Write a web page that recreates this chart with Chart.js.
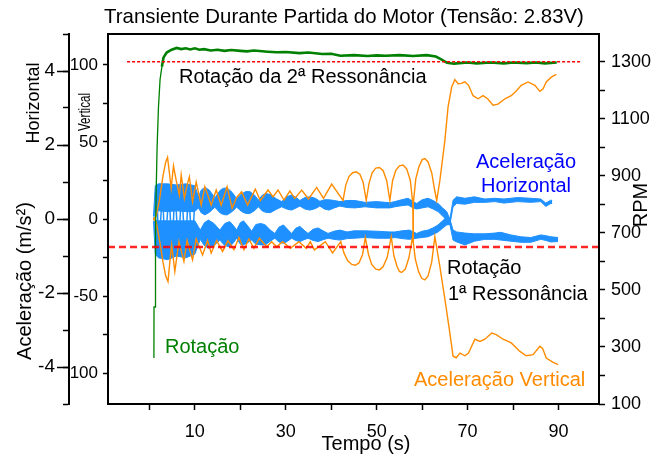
<!DOCTYPE html>
<html>
<head>
<meta charset="utf-8">
<script src="https://cdn.jsdelivr.net/npm/chart.js@4"></script>
<style>
  html, body { margin: 0; padding: 0; background: #fff; }
</style>
</head>
<body>
<canvas id="chart" width="667" height="457"></canvas>
<script>
// ---- data ----
// rotation (RPM, right axis)
const rotTime = [1.0, 1.02, 1.3, 1.35, 1.5, 1.7, 2.0, 2.35, 2.75, 3.1, 3.8, 4.9, 6, 7, 8, 9, 10, 11, 12, 13.5, 15, 16.5, 18, 20, 21.5, 23, 26, 28, 30, 33, 35, 38, 40, 42, 45, 48, 50, 52, 55, 58, 61, 63, 64, 65.5, 67, 70, 72, 75, 78, 80, 83, 85, 87, 89.6];
const rotRpm = [261, 440, 440, 700, 850, 1000, 1140, 1237, 1282, 1314, 1332, 1342, 1348, 1344, 1347, 1343, 1347, 1342, 1344, 1339, 1342, 1338, 1341, 1338, 1336, 1339, 1335, 1333, 1334, 1330, 1332, 1327, 1328, 1321, 1323, 1320, 1322, 1321, 1323, 1320, 1323, 1318, 1310, 1296, 1293, 1297, 1294, 1297, 1294, 1297, 1295, 1297, 1294, 1297];

// resonance speeds (RPM)
const res1Rpm = 650;
const res2Rpm = 1300;

// vertical acceleration, upper and lower traces
const vertUpTime = [0.9, 1.5, 2.2, 3.0, 3.6, 4.0, 4.4, 4.8, 5.3, 5.9, 6.6, 7.0, 7.7, 8.3, 8.8, 9.5, 10.3, 11.4, 12.2, 13.6, 14.7, 15.8, 17.1, 18.2, 19.2, 20.3, 21.6, 23.3, 24.4, 26.1, 27.2, 28.3, 29.6, 30.9, 32.0, 33.5, 35.0, 36.8, 38.3, 40.1, 42.6, 43.2, 43.9, 44.7, 45.5, 46.3, 47.0, 47.7, 48.3, 49.0, 49.8, 50.6, 51.4, 52.2, 52.9, 53.5, 54.2, 55.0, 55.8, 56.6, 57.4, 57.95, 58.0, 58.05, 58.6, 59.3, 60.0, 60.6, 61.3, 62.1, 62.8, 63.2, 63.9, 65.0, 65.7, 66.5, 67.2, 67.9, 68.6, 69.4, 70.2, 71.2, 72.3, 73.4, 74.4, 75.6, 76.7, 78.2, 79.6, 80.7, 81.8, 83.3, 84.8, 85.9, 86.6, 87.3, 88.4, 89.5];
const vertUp = [0, 2, 12, 28, 37, 40, 30, 20, 34.5, 25, 15.5, 28.5, 13.4, 22, 27.4, 11.2, 24, 9, 21, 9, 18.8, 9, 21, 7, 14, 17.7, 9, 19.4, 12, 18.8, 14.4, 18.8, 12.3, 18.1, 13.4, 18.8, 13, 20.5, 13.4, 22.6, 12, 22, 27.5, 30, 30.6, 29, 24, 12, 23, 30, 33, 33.4, 31.5, 25, 12, 25, 31.5, 34.5, 35, 32.5, 25, 10, -15, 10, 26, 34, 38.5, 39.2, 37, 30, 18, 12, 25, 51, 72.7, 85.6, 90.4, 87.8, 88, 89, 86.7, 80, 78, 80, 78, 73.8, 74.5, 78, 80, 83, 86.7, 88.9, 86.7, 82.8, 84.5, 88.9, 92, 93.8];
const vertLoTime = [0.9, 1.5, 2.3, 3.0, 3.6, 4.1, 4.5, 4.9, 5.6, 6.5, 7.6, 8.3, 9.5, 10.3, 11.7, 12.8, 13.6, 14.8, 16.1, 17.3, 18.6, 19.7, 20.8, 21.9, 23.0, 24.2, 25.8, 26.9, 28.0, 29.3, 31.0, 32.9, 34.5, 35.4, 36.3, 38.7, 40.3, 42.1, 42.8, 43.6, 44.5, 45.3, 46.1, 46.9, 47.5, 48.2, 48.9, 49.8, 50.6, 51.4, 52.3, 53.2, 53.8, 54.5, 55.0, 55.5, 56.3, 57.1, 57.9, 58.5, 59.2, 59.9, 60.6, 61.3, 62.1, 62.8, 63.9, 65.0, 66.1, 66.8, 67.5, 68.3, 69.4, 70.2, 71.6, 72.7, 73.8, 75.3, 76.3, 77.8, 79.6, 81.5, 82.9, 84.4, 85.9, 86.5, 87.3, 88.8, 89.9];
const vertLo = [0, -2, -15, -28, -37, -40.6, -28, -16.8, -34, -14.7, -27.6, -14, -26.5, -13, -23.3, -14, -22, -14, -21, -14, -20, -12, -20, -13, -19, -12.5, -18, -14.7, -18, -14.7, -19, -14.7, -19, -14.7, -20, -14.7, -22, -14.7, -22, -27, -29.5, -30, -28.5, -23, -12, -23, -29.5, -32.5, -33, -31, -25, -11.5, -24, -31, -34, -34.7, -32.5, -25, -11.5, -26, -34, -38.5, -39.5, -37, -28, -11.4, -30.9, -52, -74, -89, -90, -87, -88.7, -87, -78, -79.4, -78, -74, -75, -78, -80.4, -85.9, -88.7, -88, -82.6, -84, -90.2, -93, -94.5];

// horizontal acceleration: two bands (top / bottom edge), they cross near 66 s
const horATime = [0.9, 1.3, 2, 4, 6, 8, 10, 10.8, 11.4, 12.2, 13.2, 14.4, 15.6, 16.3, 17.1, 18.2, 19.2, 20.3, 21.2, 22.1, 23.1, 24.0, 24.8, 25.6, 26.6, 27.9, 29.1, 30.2, 31.3, 32.3, 33.1, 34.2, 35.3, 36.5, 37.5, 38.5, 39.5, 40.7, 41.9, 43.5, 45.2, 47.4, 50, 52.9, 54, 55.5, 56.9, 58, 58.8, 60, 61.3, 62.4, 63.5, 64.5, 65.4, 66.1, 66.8, 67.6, 69.4, 71.5, 73.8, 76, 77.3, 79.5, 81.7, 83.9, 86.1, 87.2, 88.3, 89.9];
const horATop = [0.08, 0.9, 0.95, 0.95, 0.92, 0.95, 0.9, 0.6, 0.78, 0.86, 0.78, 0.57, 0.78, 0.83, 0.84, 0.72, 0.55, 0.68, 0.74, 0.74, 0.65, 0.51, 0.64, 0.69, 0.66, 0.55, 0.47, 0.6, 0.65, 0.58, 0.5, 0.58, 0.6, 0.56, 0.48, 0.52, 0.52, 0.5, 0.47, 0.5, 0.5, 0.45, 0.47, 0.44, 0.47, 0.52, 0.56, 0.47, 0.42, 0.52, 0.56, 0.5, 0.42, 0.3, 0.2, 0.0, -0.3, -0.35, -0.38, -0.4, -0.4, -0.38, -0.36, -0.43, -0.48, -0.5, -0.43, -0.45, -0.48, -0.5];
const horABot = [0.0, 0.2, 0.22, 0.2, 0.22, 0.2, 0.2, 0.3, 0.17, 0.11, 0.18, 0.32, 0.16, 0.12, 0.11, 0.2, 0.32, 0.2, 0.15, 0.15, 0.22, 0.33, 0.22, 0.18, 0.17, 0.26, 0.33, 0.27, 0.24, 0.3, 0.35, 0.27, 0.24, 0.28, 0.35, 0.27, 0.24, 0.3, 0.35, 0.31, 0.3, 0.33, 0.3, 0.3, 0.33, 0.36, 0.38, 0.3, 0.27, 0.3, 0.33, 0.27, 0.2, 0.08, -0.03, -0.15, -0.57, -0.62, -0.7, -0.6, -0.55, -0.55, -0.57, -0.6, -0.63, -0.63, -0.55, -0.58, -0.62, -0.61];
const horBTime = [0.9, 1.3, 2, 4, 6, 8, 10, 11.2, 12.1, 13.0, 14.2, 15.5, 16.6, 17.7, 18.5, 19.2, 20.0, 20.7, 21.6, 22.5, 23.4, 24.5, 25.5, 26.6, 27.6, 28.5, 29.5, 30.4, 31.3, 32.2, 33.1, 34.0, 34.9, 36.0, 37.1, 38.2, 39.3, 40.6, 41.9, 43.5, 45, 47.4, 50, 52.9, 54, 55.6, 57.2, 58.8, 60, 61.3, 62.4, 63.5, 64.5, 65.4, 66.1, 66.8, 67.6, 69.4, 71.5, 73.8, 76, 78, 81, 83.9, 86.1, 87.2, 88.3, 88.6];
const horBTop = [0.0, -0.05, -0.05, -0.05, -0.05, -0.05, -0.05, -0.3, -0.1, -0.03, -0.12, -0.3, -0.12, -0.07, -0.18, -0.3, -0.1, -0.05, -0.18, -0.33, -0.15, -0.12, -0.16, -0.3, -0.39, -0.22, -0.16, -0.28, -0.39, -0.25, -0.2, -0.3, -0.39, -0.28, -0.24, -0.32, -0.39, -0.33, -0.3, -0.35, -0.32, -0.32, -0.33, -0.35, -0.35, -0.32, -0.3, -0.39, -0.33, -0.3, -0.24, -0.16, -0.05, 0.06, 0.0, 0.51, 0.6, 0.56, 0.6, 0.54, 0.56, 0.54, 0.58, 0.56, 0.54, 0.43, 0.51, 0.5];
const horBBot = [-0.06, -0.95, -1.05, -1.1, -1.0, -1.05, -0.95, -0.55, -0.72, -0.79, -0.72, -0.57, -0.72, -0.75, -0.64, -0.52, -0.68, -0.7, -0.64, -0.57, -0.68, -0.7, -0.7, -0.6, -0.52, -0.62, -0.66, -0.6, -0.52, -0.58, -0.61, -0.56, -0.52, -0.58, -0.61, -0.56, -0.52, -0.55, -0.57, -0.53, -0.52, -0.5, -0.52, -0.52, -0.5, -0.53, -0.55, -0.52, -0.5, -0.48, -0.42, -0.35, -0.25, -0.16, -0.15, 0.33, 0.42, 0.4, 0.45, 0.45, 0.47, 0.43, 0.47, 0.45, 0.47, 0.34, 0.42, 0.42];
// early burst: spikes crossing the gap between the bands
const horSpikeTime = [1.6, 2.1, 2.9, 3.4, 4.3, 5.0, 5.6, 6.4, 7.1, 7.9, 8.6, 9.4, 10.1];
const horSpike = [0.85, -0.9, 0.9, -1.0, 0.8, -0.95, 0.9, -0.85, 0.85, -0.95, 0.8, -0.8, 0.7];

// ticks
const timeTicks = [0, 10, 20, 30, 40, 50, 60, 70, 80, 90];
const timeLabels = [10, 30, 50, 70, 90];
const vertTicks = [-100, -75, -50, -25, 0, 25, 50, 75, 100];
const vertLabels = [-100, -50, 0, 50, 100];
const horTicks = [-5, -4, -3, -2, -1, 0, 1, 2, 3, 4, 5];
const horLabels = [-4, -2, 0, 2, 4];
const rpmTicks = [100, 200, 300, 400, 500, 600, 700, 800, 900, 1000, 1100, 1200, 1300];
const rpmLabels = [100, 300, 500, 700, 900, 1100, 1300];

const FONT = '"Liberation Sans", Arial, sans-serif';
const BLUE = "rgb(30,144,255)";
const ORANGE = "rgb(255,140,0)";

function pts(xs, ys) {
  return xs.map((x, i) => ({ x: x, y: ys[i] }));
}

function setTicks(list) {
  return function (scale) {
    scale.ticks = list.map((v) => ({ value: v }));
  };
}

function labelOnly(list) {
  return function (value) {
    return list.includes(value) ? String(value) : "";
  };
}

const tickGrid = {
  drawOnChartArea: false,
  tickLength: 6,
  tickColor: "#000",
  tickWidth: 1.5,
  color: "#000",
};

// frame, longer major ticks on the outer axis, free text
const textPlugin = {
  id: "texts",
  afterDraw(chart) {
    const ctx = chart.ctx;
    const a = chart.chartArea;
    const yH = chart.scales.yH;
    ctx.save();
    ctx.strokeStyle = "#000";
    ctx.lineWidth = 2;
    ctx.strokeRect(a.left, a.top, a.right - a.left, a.bottom - a.top);

    ctx.lineWidth = 1.5;
    ctx.beginPath();
    horLabels.forEach((v) => {
      const y = Math.round(yH.getPixelForValue(v)) + 0.5;
      ctx.moveTo(yH.right - 12, y);
      ctx.lineTo(yH.right, y);
    });
    ctx.stroke();

    ctx.textBaseline = "alphabetic";
    ctx.fillStyle = "#000";
    ctx.textAlign = "center";
    ctx.font = "20.4px " + FONT;
    ctx.fillText("Transiente Durante Partida do Motor (Tensão: 2.83V)", 344, 23);
    ctx.font = "20px " + FONT;
    ctx.fillText("Tempo (s)", 366, 450);

    ctx.textAlign = "left";
    ctx.fillText("Rotação da 2ª Ressonância", 179, 83);
    ctx.fillText("Rotação", 447, 274);
    ctx.fillText("1ª Ressonância", 448, 300);
    ctx.fillStyle = "#008000";
    ctx.fillText("Rotação", 165, 353);
    ctx.fillStyle = ORANGE;
    ctx.fillText("Aceleração Vertical", 414, 386);
    ctx.fillStyle = "#0000ff";
    ctx.textAlign = "center";
    ctx.fillText("Aceleração", 526, 168);
    ctx.fillText("Horizontal", 526, 192);

    const rot = (txt, x, y, size, squeeze) => {
      ctx.save();
      ctx.translate(x, y);
      ctx.rotate(-Math.PI / 2);
      ctx.scale(squeeze || 1, 1);
      ctx.font = size + "px " + FONT;
      ctx.textAlign = "center";
      ctx.textBaseline = "middle";
      ctx.fillStyle = "#000";
      ctx.fillText(txt, 0, 0);
      ctx.restore();
    };
    rot("Horizontal", 34, 103, 18);
    rot("Vertical", 85, 112, 17, 0.68);
    rot("Aceleração (m/s²)", 25, 281, 20);
    rot("RPM", 641, 205, 20);
    ctx.restore();
  },
};

const lineBase = { pointRadius: 0, tension: 0, xAxisID: "x" };

const datasets = [
  // resonance lines
  Object.assign({}, lineBase, {
    data: [{ x: -4.9, y: res2Rpm }, { x: 94.9, y: res2Rpm }],
    yAxisID: "yR", borderColor: "rgb(255,0,0)", borderWidth: 1.5, borderDash: [3, 2], order: 0,
  }),
  Object.assign({}, lineBase, {
    data: [{ x: -9.1, y: res1Rpm }, { x: 98.9, y: res1Rpm }],
    yAxisID: "yR", borderColor: "rgba(255,0,0,0.85)", borderWidth: 2.5, borderDash: [7, 4], order: 0,
  }),
  // rotation: thin while speeding up, thicker noisy plateau
  Object.assign({}, lineBase, {
    data: pts(rotTime, rotRpm), yAxisID: "yR", borderColor: "#008000", borderWidth: 2, order: 1,
    segment: { borderWidth: (c) => (c.p0.parsed.y > 1280 ? 2.6 : 1.3) },
  }),
  // vertical acceleration
  Object.assign({}, lineBase, {
    data: pts(vertUpTime, vertUp), yAxisID: "yV", borderColor: ORANGE, borderWidth: 1.4, order: 2,
  }),
  Object.assign({}, lineBase, {
    data: pts(vertLoTime, vertLo), yAxisID: "yV", borderColor: ORANGE, borderWidth: 1.4, order: 2,
  }),
  // horizontal acceleration bands
  Object.assign({}, lineBase, {
    data: pts(horATime, horATop), yAxisID: "yH", borderColor: BLUE, borderWidth: 1, order: 3,
  }),
  Object.assign({}, lineBase, {
    data: pts(horATime, horABot), yAxisID: "yH", borderColor: BLUE, borderWidth: 1, order: 3,
    fill: "-1", backgroundColor: BLUE,
  }),
  Object.assign({}, lineBase, {
    data: pts(horBTime, horBTop), yAxisID: "yH", borderColor: BLUE, borderWidth: 1, order: 3,
  }),
  Object.assign({}, lineBase, {
    data: pts(horBTime, horBBot), yAxisID: "yH", borderColor: BLUE, borderWidth: 1, order: 3,
    fill: "-1", backgroundColor: BLUE,
  }),
  Object.assign({}, lineBase, {
    data: pts(horSpikeTime, horSpike), yAxisID: "yH", borderColor: BLUE, borderWidth: 1.5, order: 3,
  }),
];

new Chart(document.getElementById("chart"), {
  type: "line",
  data: { datasets: datasets },
  options: {
    responsive: false,
    animation: false,
    layout: { padding: { top: 34, left: 0, right: 0, bottom: 0 } },
    plugins: { legend: { display: false }, tooltip: { enabled: false }, title: { display: false } },
    scales: {
      x: {
        type: "linear", min: -9.1, max: 98.9,
        afterBuildTicks: setTicks(timeTicks),
        afterFit: (s) => { s.height = 53; },
        ticks: { callback: labelOnly(timeLabels), color: "#000", font: { size: 18, family: FONT }, autoSkip: false, maxRotation: 0, padding: 11 },
        grid: tickGrid,
        border: { display: false },
      },
      yV: {
        type: "linear", position: "left", weight: 0, min: -120, max: 120,
        afterBuildTicks: setTicks(vertTicks),
        afterFit: (s) => { s.width = 39; },
        ticks: { callback: labelOnly(vertLabels), color: "#000", font: { size: 17, family: FONT }, autoSkip: false, padding: 5 },
        grid: Object.assign({}, tickGrid, { tickLength: 5 }),
        border: { display: false },
      },
      yH: {
        type: "linear", position: "left", weight: 1, min: -5, max: 5,
        afterBuildTicks: setTicks(horTicks),
        afterFit: (s) => { s.width = 69; },
        ticks: { callback: labelOnly(horLabels), color: "#000", font: { size: 19, family: FONT }, autoSkip: false, padding: 8 },
        grid: tickGrid,
        border: { display: true, color: "#000", width: 2 },
      },
      yR: {
        type: "linear", position: "right", min: 100, max: 1397,
        afterBuildTicks: setTicks(rpmTicks),
        afterFit: (s) => { s.width = 68; },
        ticks: { callback: labelOnly(rpmLabels), color: "#000", font: { size: 18, family: FONT }, autoSkip: false, padding: 6 },
        grid: tickGrid,
        border: { display: false },
      },
    },
  },
  plugins: [textPlugin],
});
</script>
</body>
</html>
